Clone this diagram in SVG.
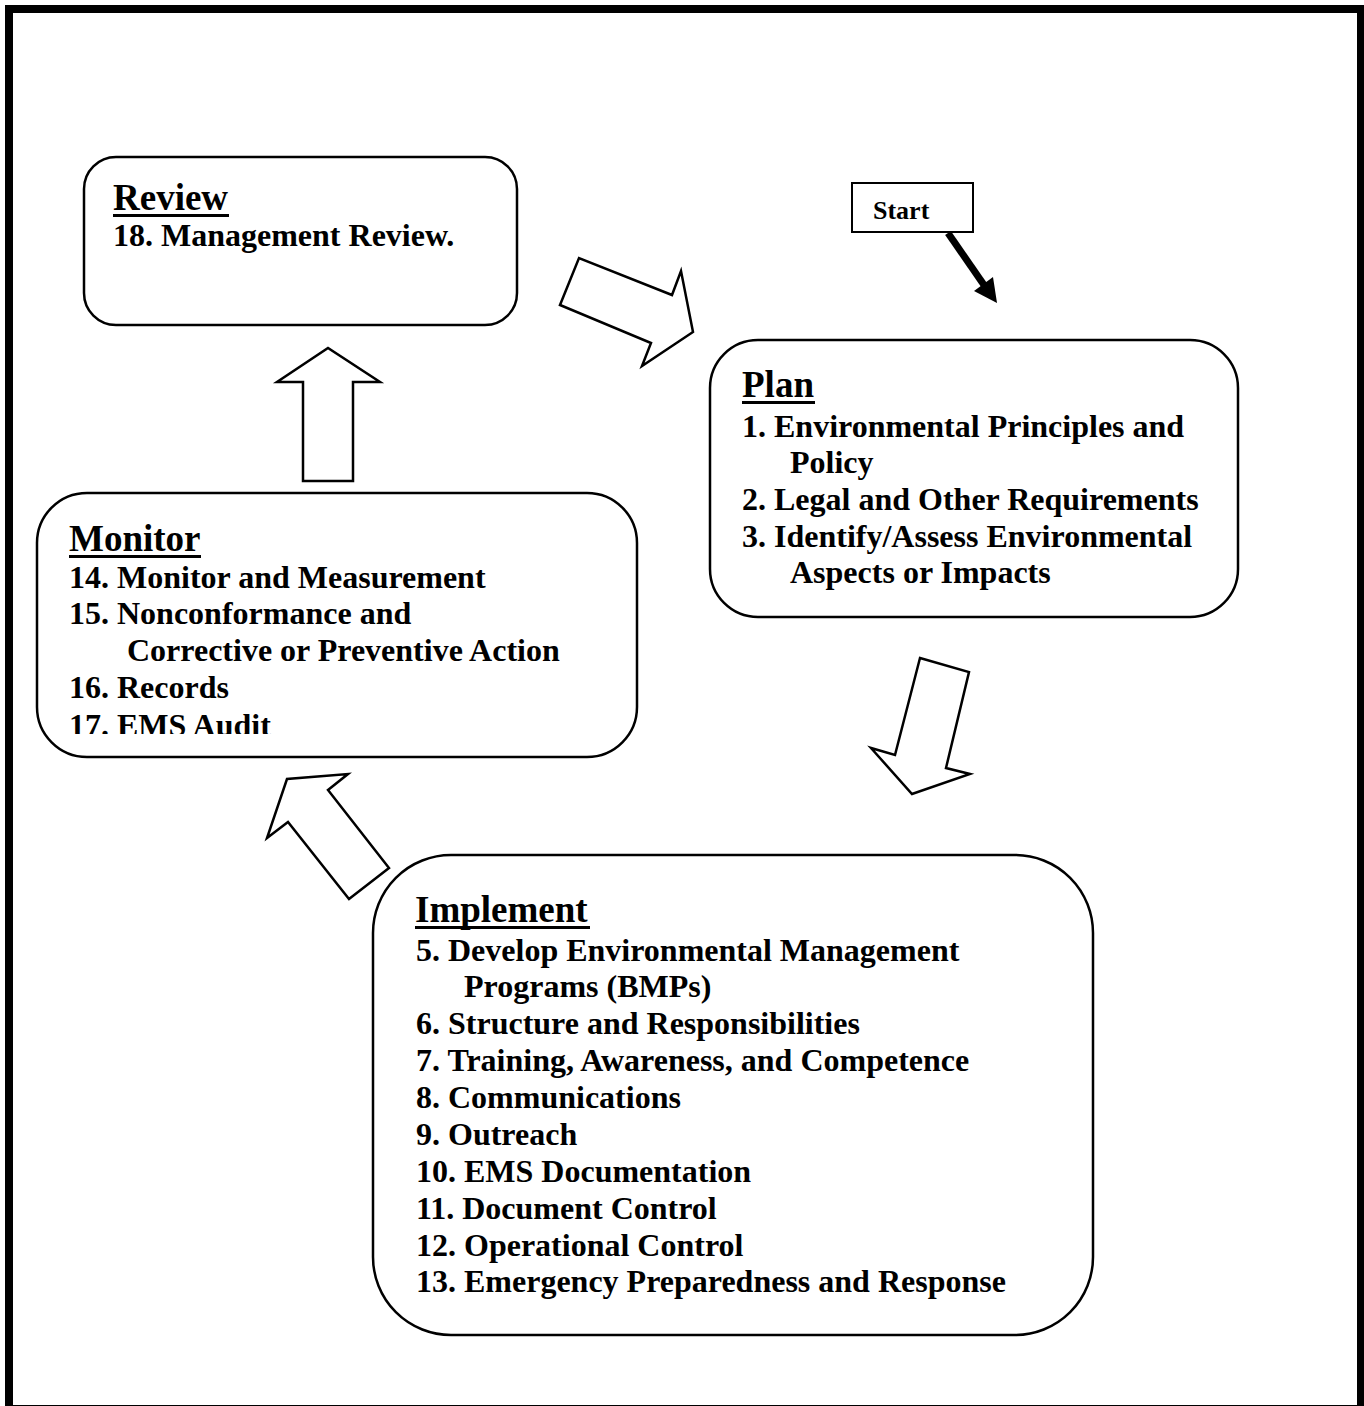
<svg xmlns="http://www.w3.org/2000/svg" width="1364" height="1406" viewBox="0 0 1364 1406">
<defs>
<style>
.box{fill:#fff;stroke:#000;stroke-width:2.5}
.blk{fill:#fff;stroke:#000;stroke-width:2.5;stroke-linejoin:miter}
.h{font-family:"Liberation Serif","Times New Roman",serif;font-weight:bold;font-size:37px;fill:#000}
.t{font-family:"Liberation Serif","Times New Roman",serif;font-weight:bold;font-size:32px;fill:#000}
.ul{stroke:#000;stroke-width:3}
</style>
<clipPath id="monClip"><rect x="0" y="0" width="1364" height="734"/></clipPath>
</defs>
<rect x="0" y="0" width="1364" height="1406" fill="#fff"/>
<rect x="9" y="9" width="1352" height="1400" fill="none" stroke="#000" stroke-width="8"/>

<g id="connectors">
<polygon class="blk" points="560,305 579,258 672,295 681,271 693,332 642,366 651,343"/>
<polygon class="blk" points="920,658 969,672 946,768 970,774 912,794 871,748 895,755"/>
<polygon class="blk" points="349,899 389,868 328,790 348,774 287,779 267,838 288,822"/>
<polygon class="blk" points="303,481 353,481 353,382 380,382 328,348 277,382 303,382"/>
<line x1="948" y1="233" x2="984" y2="285" stroke="#000" stroke-width="7"/>
<polygon points="997,303 974,291 993,277" fill="#000"/>
</g>

<g id="start">
<rect x="852" y="183" width="121" height="49" fill="#fff" stroke="#000" stroke-width="2"/>
<text x="873" y="219" class="t" style="font-size:26px">Start</text>
</g>

<g id="review">
<rect class="box" x="84" y="157" width="433" height="168" rx="32" ry="32"/>
<text x="113" y="210" class="h">Review</text>
<line class="ul" x1="113" y1="215.5" x2="229" y2="215.5"/>
<text x="113" y="246" class="t">18. Management Review.</text>
</g>

<g id="plan">
<rect class="box" x="710" y="340" width="528" height="277" rx="48" ry="48"/>
<text x="742" y="397" class="h">Plan</text>
<line class="ul" x1="742" y1="402.5" x2="815" y2="402.5"/>
<text x="742" y="437" class="t">1. Environmental Principles and</text>
<text x="790" y="473" class="t">Policy</text>
<text x="742" y="510" class="t">2. Legal and Other Requirements</text>
<text x="742" y="547" class="t">3. Identify/Assess Environmental</text>
<text x="790" y="583" class="t">Aspects or Impacts</text>
</g>

<g id="monitor">
<rect class="box" x="37" y="493" width="600" height="264" rx="50" ry="50"/>
<text x="69" y="551" class="h">Monitor</text>
<line class="ul" x1="69" y1="556.5" x2="201" y2="556.5"/>
<text x="69" y="588" class="t">14. Monitor and Measurement</text>
<text x="69" y="624" class="t">15. Nonconformance and</text>
<text x="127" y="661" class="t">Corrective or Preventive Action</text>
<text x="69" y="698" class="t">16. Records</text>
<text x="69" y="736" class="t" clip-path="url(#monClip)">17. EMS Audit</text>
</g>

<g id="implement">
<rect class="box" x="373" y="855" width="720" height="480" rx="78" ry="78"/>
<text x="415" y="922" class="h">Implement</text>
<line class="ul" x1="415" y1="927.5" x2="590" y2="927.5"/>
<text x="416" y="961" class="t">5. Develop Environmental Management</text>
<text x="464" y="997" class="t">Programs (BMPs)</text>
<text x="416" y="1034" class="t">6. Structure and Responsibilities</text>
<text x="416" y="1071" class="t">7. Training, Awareness, and Competence</text>
<text x="416" y="1108" class="t">8. Communications</text>
<text x="416" y="1145" class="t">9. Outreach</text>
<text x="416" y="1182" class="t">10. EMS Documentation</text>
<text x="416" y="1219" class="t">11. Document Control</text>
<text x="416" y="1256" class="t">12. Operational Control</text>
<text x="416" y="1292" class="t">13. Emergency Preparedness and Response</text>
</g>
</svg>
